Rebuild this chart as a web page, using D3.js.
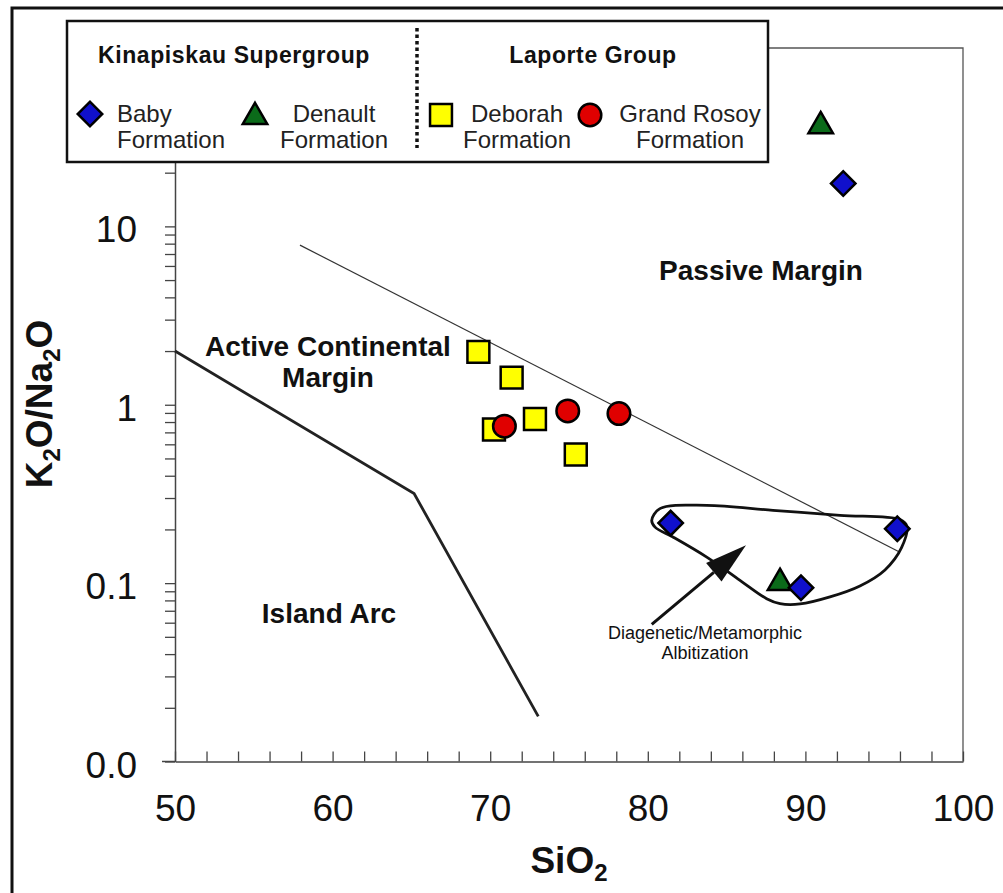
<!DOCTYPE html>
<html>
<head>
<meta charset="utf-8">
<script src="https://cdn.jsdelivr.net/npm/d3@7"></script>
<style>
  body { margin: 0; background: #fff; }
  text { font-family: "Liberation Sans", Arial, sans-serif; fill: #111; }
</style>
</head>
<body>
<svg id="mainSvg" width="1003" height="893"></svg>
<script>
// ---- data (SiO2 wt%, K2O/Na2O) ----
var babyX = [92.4, 81.45, 95.83, 89.72];
var babyY = [17.4, 0.217, 0.202, 0.0943];
var denaultX = [90.97, 88.39];
var denaultY = [36.5, 0.1003];
var deborahX = [69.25, 71.36, 70.24, 72.84, 75.43];
var deborahY = [1.98, 1.42, 0.726, 0.832, 0.526];
var rosoyX = [70.9, 74.92, 78.17];
var rosoyY = [0.758, 0.923, 0.893];

// field boundaries
var passiveLineX = [57.93, 96.0];
var passiveLineY = [7.85, 0.149];
var arcLineX = [50, 65.17, 73.05];
var arcLineY = [2, 0.318, 0.0179];
var albitX = [80.25, 80.77, 83.74, 87.94, 92.2, 96.0, 96.43, 96.1, 95.05, 93.46, 91.56, 89.66, 88.39, 87.54, 85.85, 83.74, 81.62, 80.46];
var albitY = [0.225, 0.2617, 0.273, 0.256, 0.240, 0.227, 0.209, 0.158, 0.1186, 0.0964, 0.0837, 0.0764, 0.0767, 0.0818, 0.1036, 0.140, 0.181, 0.206];
var arrowX = [80.25, 86.23];
var arrowY = [0.0587, 0.163];

var xTicks = d3.range(50, 101, 2);
var xLabels = [50, 60, 70, 80, 90, 100];
var yLabels = {"10": "10", "1": "1", "0.1": "0.1", "0.01": "0.0"};

function zip(xs, ys) { return xs.map(function(d, i) { return [d, ys[i]]; }); }

var svg = d3.select("#mainSvg");

var x = d3.scaleLinear().domain([50, 100]).range([175, 963]);
var y = d3.scaleLog().domain([0.01, 100]).range([761.5, 48]);

// outer frame
svg.append("rect")
  .attr("x", 12).attr("y", 8).attr("width", 1100).attr("height", 1000)
  .attr("fill", "#fff").attr("stroke", "#111").attr("stroke-width", 3);

// plot frame (top and right)
svg.append("path")
  .attr("d", "M" + x(50) + "," + y(100) + "H" + x(100) + "V" + y(0.01))
  .attr("fill", "none").attr("stroke", "#555").attr("stroke-width", 1.3);

// x axis
var xAxis = svg.append("g")
  .attr("transform", "translate(0," + y(0.01) + ")")
  .call(d3.axisBottom(x)
    .tickValues(xTicks)
    .tickSizeInner(-10).tickSizeOuter(0).tickPadding(33)
    .tickFormat(function(d) { return xLabels.indexOf(d) >= 0 ? d : ""; }));
xAxis.selectAll("text").attr("font-size", 37).attr("font-family", null);
xAxis.select(".domain").attr("stroke", "#444").attr("stroke-width", 1.5);
xAxis.selectAll(".tick line").attr("stroke", "#444").attr("stroke-width", 1.3);
svg.append("line")
  .attr("x1", 162).attr("x2", x(50)).attr("y1", y(0.01)).attr("y2", y(0.01))
  .attr("stroke", "#444").attr("stroke-width", 1.5);

// y axis (log, with minor ticks)
var yTicks = [];
[0.01, 0.1, 1, 10].forEach(function(dec) {
  for (var k = 1; k <= 9; k++) yTicks.push(+(k * dec).toPrecision(3));
});
yTicks.push(100);
var yAxis = svg.append("g")
  .attr("transform", "translate(" + x(50) + ",0)")
  .call(d3.axisLeft(y)
    .tickValues(yTicks)
    .tickSizeInner(10).tickSizeOuter(0).tickPadding(28)
    .tickFormat(function(d) { return yLabels[String(d)] || ""; }));
yAxis.selectAll("text").attr("font-size", 37).attr("font-family", null).attr("dy", "0.42em");
yAxis.select(".domain").attr("stroke", "#444").attr("stroke-width", 1.5);
yAxis.selectAll(".tick line").attr("stroke", "#444").attr("stroke-width", 1.3);

// axis titles
var yt = svg.append("text")
  .attr("transform", "translate(52,404) rotate(-90)")
  .attr("text-anchor", "middle")
  .attr("font-size", 37).attr("font-weight", "bold");
yt.append("tspan").text("K");
yt.append("tspan").attr("font-size", 24).attr("dy", 8).text("2");
yt.append("tspan").attr("dy", -8).text("O/Na");
yt.append("tspan").attr("font-size", 24).attr("dy", 8).text("2");
yt.append("tspan").attr("dy", -8).text("O");

var xt = svg.append("text")
  .attr("x", 569).attr("y", 873)
  .attr("text-anchor", "middle")
  .attr("font-size", 37).attr("font-weight", "bold");
xt.append("tspan").text("SiO");
xt.append("tspan").attr("font-size", 24).attr("dy", 8).text("2");

// field boundaries
var line = d3.line().x(function(d) { return x(d[0]); }).y(function(d) { return y(d[1]); });

svg.append("path")
  .attr("d", line(zip(passiveLineX, passiveLineY)))
  .attr("fill", "none").attr("stroke", "#333").attr("stroke-width", 1.2);

svg.append("path")
  .attr("d", line(zip(arcLineX, arcLineY)))
  .attr("fill", "none").attr("stroke", "#222").attr("stroke-width", 2.8);

svg.append("path")
  .attr("d", line.curve(d3.curveCatmullRomClosed.alpha(0.5))(zip(albitX, albitY)))
  .attr("fill", "none").attr("stroke", "#111").attr("stroke-width", 2.8);
line.curve(d3.curveLinear);

// arrow
var ax0 = x(arrowX[0]), ay0 = y(arrowY[0]), ax1 = x(arrowX[1]), ay1 = y(arrowY[1]);
var ang = Math.atan2(ay1 - ay0, ax1 - ax0);
var headLen = 42, headW = 12;
var bx = ax1 - headLen * Math.cos(ang), by = ay1 - headLen * Math.sin(ang);
svg.append("line")
  .attr("x1", ax0).attr("y1", ay0).attr("x2", bx).attr("y2", by)
  .attr("stroke", "#111").attr("stroke-width", 3);
svg.append("path")
  .attr("d", "M" + ax1 + "," + ay1 +
    "L" + (bx + headW * Math.sin(ang)) + "," + (by - headW * Math.cos(ang)) +
    "L" + (bx - headW * Math.sin(ang)) + "," + (by + headW * Math.cos(ang)) + "Z")
  .attr("fill", "#111");

// region labels
function label(cx, cy, lines, size, weight) {
  var t = svg.append("text").attr("text-anchor", "middle")
    .attr("font-size", size).attr("font-weight", weight);
  lines.forEach(function(s, i) {
    t.append("tspan").attr("x", cx).attr("y", cy + i * size * 1.1).text(s);
  });
}
label(761, 280, ["Passive Margin"], 28, "bold");
label(328, 356, ["Active Continental", "Margin"], 28, "bold");
label(329, 623, ["Island Arc"], 28, "bold");
label(705, 639, ["Diagenetic/Metamorphic", "Albitization"], 18, "normal");

// markers
var sym = {
  diamond: d3.symbol().type(d3.symbolSquare).size(300),
  triangle: d3.symbol().type(d3.symbolTriangle).size(260),
  square: d3.symbol().type(d3.symbolSquare).size(480),
  circle: d3.symbol().type(d3.symbolCircle).size(400)
};
var series = [
  {xs: deborahX, ys: deborahY, shape: "square", fill: "#ffff00"},
  {xs: rosoyX, ys: rosoyY, shape: "circle", fill: "#e00000"},
  {xs: denaultX, ys: denaultY, shape: "triangle", fill: "#0b6b1a"},
  {xs: babyX, ys: babyY, shape: "diamond", fill: "#1010cc"}
];
series.forEach(function(s) {
  svg.append("g").selectAll("path")
    .data(zip(s.xs, s.ys))
    .enter().append("path")
    .attr("d", sym[s.shape])
    .attr("transform", function(d) {
      return "translate(" + x(d[0]) + "," + y(d[1]) + ")" + (s.shape === "diamond" ? " rotate(45)" : "");
    })
    .attr("fill", s.fill).attr("stroke", "#000").attr("stroke-width", 2.5);
});

// legend
var lg = svg.append("g");
lg.append("rect")
  .attr("x", 67).attr("y", 21).attr("width", 701).attr("height", 141)
  .attr("fill", "#fff").attr("stroke", "#111").attr("stroke-width", 2.5);
lg.append("line")
  .attr("x1", 417).attr("x2", 417).attr("y1", 28).attr("y2", 148)
  .attr("stroke", "#111").attr("stroke-width", 3.5).attr("stroke-dasharray", "3.5,3");
lg.append("text").attr("x", 234).attr("y", 63).attr("text-anchor", "middle")
  .attr("font-size", 23).attr("font-weight", "bold").attr("letter-spacing", 0.6)
  .text("Kinapiskau Supergroup");
lg.append("text").attr("x", 593).attr("y", 63).attr("text-anchor", "middle")
  .attr("font-size", 23).attr("font-weight", "bold").attr("letter-spacing", 0.6)
  .text("Laporte Group");

var legendItems = [
  {shape: "diamond", fill: "#1010cc", mx: 90, my: 114, tx: 117, anchor: "start", lines: ["Baby", "Formation"]},
  {shape: "triangle", fill: "#0b6b1a", mx: 255, my: 117, tx: 334, anchor: "middle", lines: ["Denault", "Formation"]},
  {shape: "square", fill: "#ffff00", mx: 441, my: 115, tx: 517, anchor: "middle", lines: ["Deborah", "Formation"]},
  {shape: "circle", fill: "#e00000", mx: 590, my: 115, tx: 690, anchor: "middle", lines: ["Grand Rosoy", "Formation"]}
];
legendItems.forEach(function(it) {
  lg.append("path")
    .attr("d", sym[it.shape])
    .attr("transform", "translate(" + it.mx + "," + it.my + ")" + (it.shape === "diamond" ? " rotate(45)" : ""))
    .attr("fill", it.fill).attr("stroke", "#000").attr("stroke-width", 2.5);
  var t = lg.append("text").attr("text-anchor", it.anchor).attr("font-size", 24).style("fill", "#222");
  it.lines.forEach(function(s, i) {
    t.append("tspan").attr("x", it.tx).attr("y", 122 + i * 26).text(s);
  });
});
</script>
</body>
</html>
